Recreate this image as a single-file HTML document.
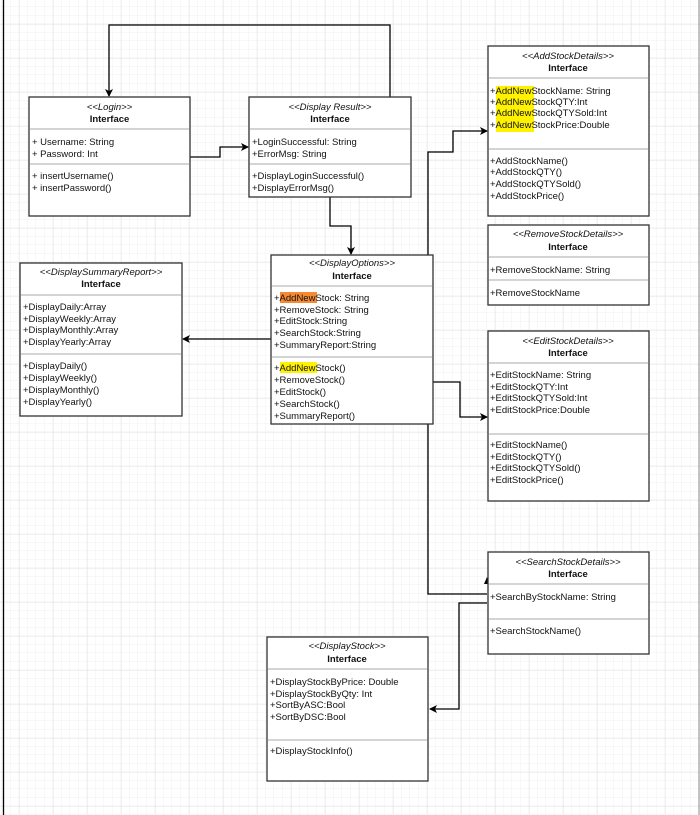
<!DOCTYPE html>
<html><head><meta charset="utf-8"><style>
html,body{margin:0;padding:0;background:#fff}
svg{display:block}
text{font-family:"Liberation Sans",Arial,sans-serif;font-size:9.5px;fill:#111}
.st{font-style:italic;text-anchor:middle}
.ti{font-weight:bold;text-anchor:middle}
.b{fill:#fff;stroke:#333;stroke-width:1.3}
.d{stroke:#aaa;stroke-width:1}
.c{fill:none;stroke:#000;stroke-width:1.3}
</style></head><body>
<svg width="700" height="815" xmlns="http://www.w3.org/2000/svg">
<defs>
<pattern id="g1" width="8.5" height="8.5" patternUnits="userSpaceOnUse" x="2" y="7">
<path d="M8.5 0V8.5M0 8.5H8.5" stroke="#f2f2f2" stroke-width="1" fill="none"/></pattern>
<pattern id="g2" width="34" height="34" patternUnits="userSpaceOnUse" x="19" y="24">
<path d="M0 0V34M0 0H34" stroke="#e3e3e3" stroke-width="1" fill="none"/></pattern>
<marker id="a" markerWidth="8" markerHeight="8" refX="7" refY="4" orient="auto" markerUnits="userSpaceOnUse">
<path d="M0,0 L8,4 L0,8 L2,4 z" fill="#000"/></marker>
</defs>
<rect width="700" height="815" fill="url(#g1)"/>
<rect width="700" height="815" fill="url(#g2)"/>
<line x1="3.5" y1="0" x2="3.5" y2="815" stroke="#000" stroke-width="1.3"/>
<line x1="699" y1="0" x2="699" y2="815" stroke="#888" stroke-width="1"/>

<path class="c" d="M390 97V25H109V96" marker-end="url(#a)"/>
<path class="c" d="M190 157H220V147H248" marker-end="url(#a)"/>
<path class="c" d="M330 197V226H351V254" marker-end="url(#a)"/>
<path class="c" d="M271 339H183" marker-end="url(#a)"/>
<path class="c" d="M428 255V152H453V131H487" marker-end="url(#a)"/>
<path class="c" d="M433 382H460V417H487" marker-end="url(#a)"/>
<path class="c" d="M428 424V594H487"/>
<path d="M484 584 L487 577 L490 584z" fill="#000"/>
<path class="c" d="M487 603H459V709H430" marker-end="url(#a)"/>

<rect class="b" x="29" y="97" width="161" height="119"/>
<line class="d" x1="30" y1="129" x2="189" y2="129"/><line class="d" x1="30" y1="164" x2="189" y2="164"/>
<text class="st" x="109.5" y="110">&lt;&lt;Login&gt;&gt;</text><text class="ti" x="109.5" y="122">Interface</text>
<text x="32" y="145">+ Username: String</text><text x="32" y="157">+ Password: Int</text>
<text x="32" y="179">+ insertUsername()</text><text x="32" y="191">+ insertPassword()</text>

<rect class="b" x="249" y="97" width="162" height="100"/>
<line class="d" x1="250" y1="129" x2="410" y2="129"/><line class="d" x1="250" y1="164" x2="410" y2="164"/>
<text class="st" x="330" y="110">&lt;&lt;Display Result&gt;&gt;</text><text class="ti" x="330" y="122">Interface</text>
<text x="252" y="145">+LoginSuccessful: String</text><text x="252" y="157">+ErrorMsg: String</text>
<text x="252" y="179">+DisplayLoginSuccessful()</text><text x="252" y="191">+DisplayErrorMsg()</text>

<rect class="b" x="271" y="255" width="162" height="169"/>
<line class="d" x1="272" y1="286" x2="432" y2="286"/><line class="d" x1="272" y1="357" x2="432" y2="357"/>
<text class="st" x="352" y="266">&lt;&lt;DisplayOptions&gt;&gt;</text><text class="ti" x="352" y="279">Interface</text>
<rect x="280" y="292" width="37" height="11" fill="#f58a33"/>
<rect x="280" y="362" width="37" height="11" fill="#fff200"/>
<text x="274" y="301">+AddNewStock: String</text>
<text x="274" y="313">+RemoveStock: String</text>
<text x="274" y="324">+EditStock:String</text>
<text x="274" y="336">+SearchStock:String</text>
<text x="274" y="348">+SummaryReport:String</text>
<text x="274" y="371">+AddNewStock()</text>
<text x="274" y="383">+RemoveStock()</text>
<text x="274" y="395">+EditStock()</text>
<text x="274" y="407">+SearchStock()</text>
<text x="274" y="419">+SummaryReport()</text>

<rect class="b" x="20" y="263" width="162" height="153"/>
<line class="d" x1="21" y1="295" x2="181" y2="295"/><line class="d" x1="21" y1="354" x2="181" y2="354"/>
<text class="st" x="101" y="275">&lt;&lt;DisplaySummaryReport&gt;&gt;</text><text class="ti" x="101" y="287">Interface</text>
<text x="23" y="310">+DisplayDaily:Array</text><text x="23" y="322">+DisplayWeekly:Array</text>
<text x="23" y="333">+DisplayMonthly:Array</text><text x="23" y="345">+DisplayYearly:Array</text>
<text x="23" y="369">+DisplayDaily()</text><text x="23" y="381">+DisplayWeekly()</text>
<text x="23" y="393">+DisplayMonthly()</text><text x="23" y="405">+DisplayYearly()</text>

<rect class="b" x="488" y="46" width="161" height="170"/>
<line class="d" x1="489" y1="78" x2="648" y2="78"/><line class="d" x1="489" y1="149" x2="648" y2="149"/>
<text class="st" x="568" y="59">&lt;&lt;AddStockDetails&gt;&gt;</text><text class="ti" x="568" y="71">Interface</text>
<rect x="496" y="86" width="38" height="46" fill="#fff200"/>
<text x="490" y="94">+AddNewStockName: String</text><text x="490" y="105">+AddNewStockQTY:Int</text>
<text x="490" y="116">+AddNewStockQTYSold:Int</text><text x="490" y="128">+AddNewStockPrice:Double</text>
<text x="490" y="164">+AddStockName()</text><text x="490" y="175">+AddStockQTY()</text>
<text x="490" y="187">+AddStockQTYSold()</text><text x="490" y="199">+AddStockPrice()</text>

<rect class="b" x="488" y="225" width="161" height="80"/>
<line class="d" x1="489" y1="257" x2="648" y2="257"/><line class="d" x1="489" y1="280" x2="648" y2="280"/>
<text class="st" x="568" y="237">&lt;&lt;RemoveStockDetails&gt;&gt;</text><text class="ti" x="568" y="250">Interface</text>
<text x="490" y="273">+RemoveStockName: String</text><text x="490" y="296">+RemoveStockName</text>

<rect class="b" x="488" y="331" width="161" height="170"/>
<line class="d" x1="489" y1="363" x2="648" y2="363"/><line class="d" x1="489" y1="434" x2="648" y2="434"/>
<text class="st" x="568" y="344">&lt;&lt;EditStockDetails&gt;&gt;</text><text class="ti" x="568" y="356">Interface</text>
<text x="490" y="378">+EditStockName: String</text><text x="490" y="390">+EditStockQTY:Int</text>
<text x="490" y="401">+EditStockQTYSold:Int</text><text x="490" y="413">+EditStockPrice:Double</text>
<text x="490" y="448">+EditStockName()</text><text x="490" y="460">+EditStockQTY()</text>
<text x="490" y="471">+EditStockQTYSold()</text><text x="490" y="483">+EditStockPrice()</text>

<rect class="b" x="488" y="552" width="161" height="102"/>
<line class="d" x1="489" y1="584" x2="648" y2="584"/><line class="d" x1="489" y1="619" x2="648" y2="619"/>
<text class="st" x="568" y="565">&lt;&lt;SearchStockDetails&gt;&gt;</text><text class="ti" x="568" y="577">Interface</text>
<text x="490" y="600">+SearchByStockName: String</text><text x="490" y="634">+SearchStockName()</text>

<rect class="b" x="267" y="637" width="161" height="144"/>
<line class="d" x1="268" y1="669" x2="427" y2="669"/><line class="d" x1="268" y1="740" x2="427" y2="740"/>
<text class="st" x="347" y="649">&lt;&lt;DisplayStock&gt;&gt;</text><text class="ti" x="347" y="662">Interface</text>
<text x="270" y="685">+DisplayStockByPrice: Double</text><text x="270" y="697">+DisplayStockByQty: Int</text>
<text x="270" y="708">+SortByASC:Bool</text><text x="270" y="720">+SortByDSC:Bool</text>
<text x="270" y="754">+DisplayStockInfo()</text>
</svg>
</body></html>
